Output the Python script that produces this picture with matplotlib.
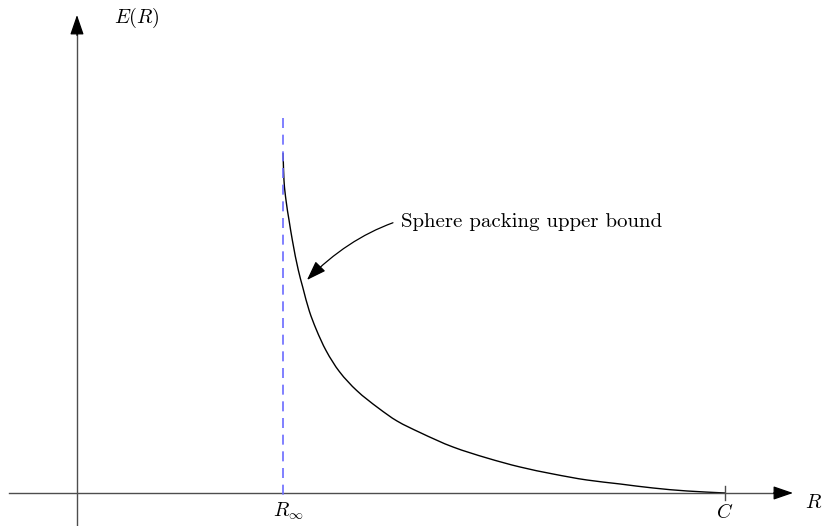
import matplotlib
matplotlib.use("Agg")
import matplotlib.pyplot as plt
from matplotlib.path import Path
from matplotlib.patches import PathPatch

plt.rcParams["mathtext.fontset"] = "cm"

# Error exponent curve E(R) between R_inf and capacity C (C normalised to 1)
R_vals = [0.318, 0.3194, 0.3225, 0.3272, 0.3323, 0.3415, 0.3483, 0.3585, 0.3688,
          0.3843, 0.4048, 0.4316, 0.4650, 0.4938, 0.5293, 0.5802, 0.6327, 0.6836,
          0.7346, 0.7870, 0.8380, 0.8889, 0.9414, 1.000]
E_vals = [1.000, 0.9206, 0.8618, 0.8029, 0.7441, 0.6559, 0.6059, 0.5353, 0.4830,
          0.4191, 0.3574, 0.3015, 0.2500, 0.2118, 0.1779, 0.1353, 0.1029, 0.0765,
          0.0559, 0.0382, 0.0265, 0.0147, 0.0059, 0.000]

R_inf = 0.318
C = 1.0
R_inf_label = r"$R_\infty$"
C_label = r"$C$"
x_label = r"$R$"
y_label = r"$E(R)$"
curve_label = "Sphere packing upper bound"


def smooth_path(xs, ys):
    """Monotone cubic (Fritsch-Carlson) Bezier path through every (x, y) pair."""
    n = len(xs)
    h = [xs[i + 1] - xs[i] for i in range(n - 1)]
    d = [(ys[i + 1] - ys[i]) / h[i] for i in range(n - 1)]
    m = [0.0] * n
    m[0], m[-1] = d[0], d[-1]
    for i in range(1, n - 1):
        if d[i - 1] * d[i] <= 0:
            m[i] = 0.0
        else:
            w1 = 2 * h[i] + h[i - 1]
            w2 = h[i] + 2 * h[i - 1]
            m[i] = (w1 + w2) / (w1 / d[i - 1] + w2 / d[i])
    verts = [(xs[0], ys[0])]
    codes = [Path.MOVETO]
    for i in range(n - 1):
        verts += [(xs[i] + h[i] / 3, ys[i] + m[i] * h[i] / 3),
                  (xs[i + 1] - h[i] / 3, ys[i + 1] - m[i + 1] * h[i] / 3),
                  (xs[i + 1], ys[i + 1])]
        codes += [Path.CURVE4] * 3
    return Path(verts, codes)


fig = plt.figure(figsize=(8.22, 5.26), dpi=100)
ax = fig.add_axes([0, 0, 1, 1])
ax.set_xlim(-0.1188, 1.1497)
ax.set_ylim(-0.0971, 1.45)
ax.axis("off")

axis_col = "#4d4d4d"
head = dict(arrowstyle="-|>,head_length=1.22,head_width=0.42",
            mutation_scale=10, color="black", lw=0.9, shrinkA=0, shrinkB=0)

# horizontal axis
x_left, x_tip = -0.105, 1.105
ax.plot([x_left, x_tip - 0.02], [0, 0], color=axis_col, lw=1.0)
ax.annotate("", xy=(x_tip, 0), xytext=(x_tip - 0.03, 0), arrowprops=head)

# vertical axis
y_bot, y_tip = -0.0971, 1.406
ax.plot([0, 0], [y_bot, y_tip - 0.04], color=axis_col, lw=1.0)
ax.annotate("", xy=(0, y_tip), xytext=(0, y_tip - 0.06), arrowprops=head)

# tick at capacity
ax.plot([C, C], [-0.021, 0.021], color=axis_col, lw=1.0)

# dashed asymptote at R_inf
ax.plot([R_inf, R_inf], [1.103, -0.021], color="#6b6bff", lw=1.2,
        dashes=(6, 4))

# the curve
ax.add_patch(PathPatch(smooth_path(R_vals, E_vals), facecolor="none",
                       edgecolor="black", lw=1.0))

# labels
ax.text(0.0926, 1.397, y_label, fontsize=14.5, ha="center", va="center")
ax.text(1.136, -0.029, x_label, fontsize=14.5, ha="center", va="center")
ax.text(0.3256, -0.055, R_inf_label, fontsize=14.5, ha="center", va="center")
ax.text(C, -0.056, C_label, fontsize=14.5, ha="center", va="center")

ax.annotate(curve_label, xy=(0.3549, 0.6265), xytext=(0.5, 0.797),
            fontsize=15, fontfamily="cmr10", ha="left", va="center",
            arrowprops=dict(arrowstyle="-|>,head_length=1.2,head_width=0.42",
                            mutation_scale=10, color="black", lw=0.9,
                            shrinkA=4, shrinkB=0,
                            connectionstyle="arc3,rad=0.3"))

fig.savefig("out.png", dpi=100)
